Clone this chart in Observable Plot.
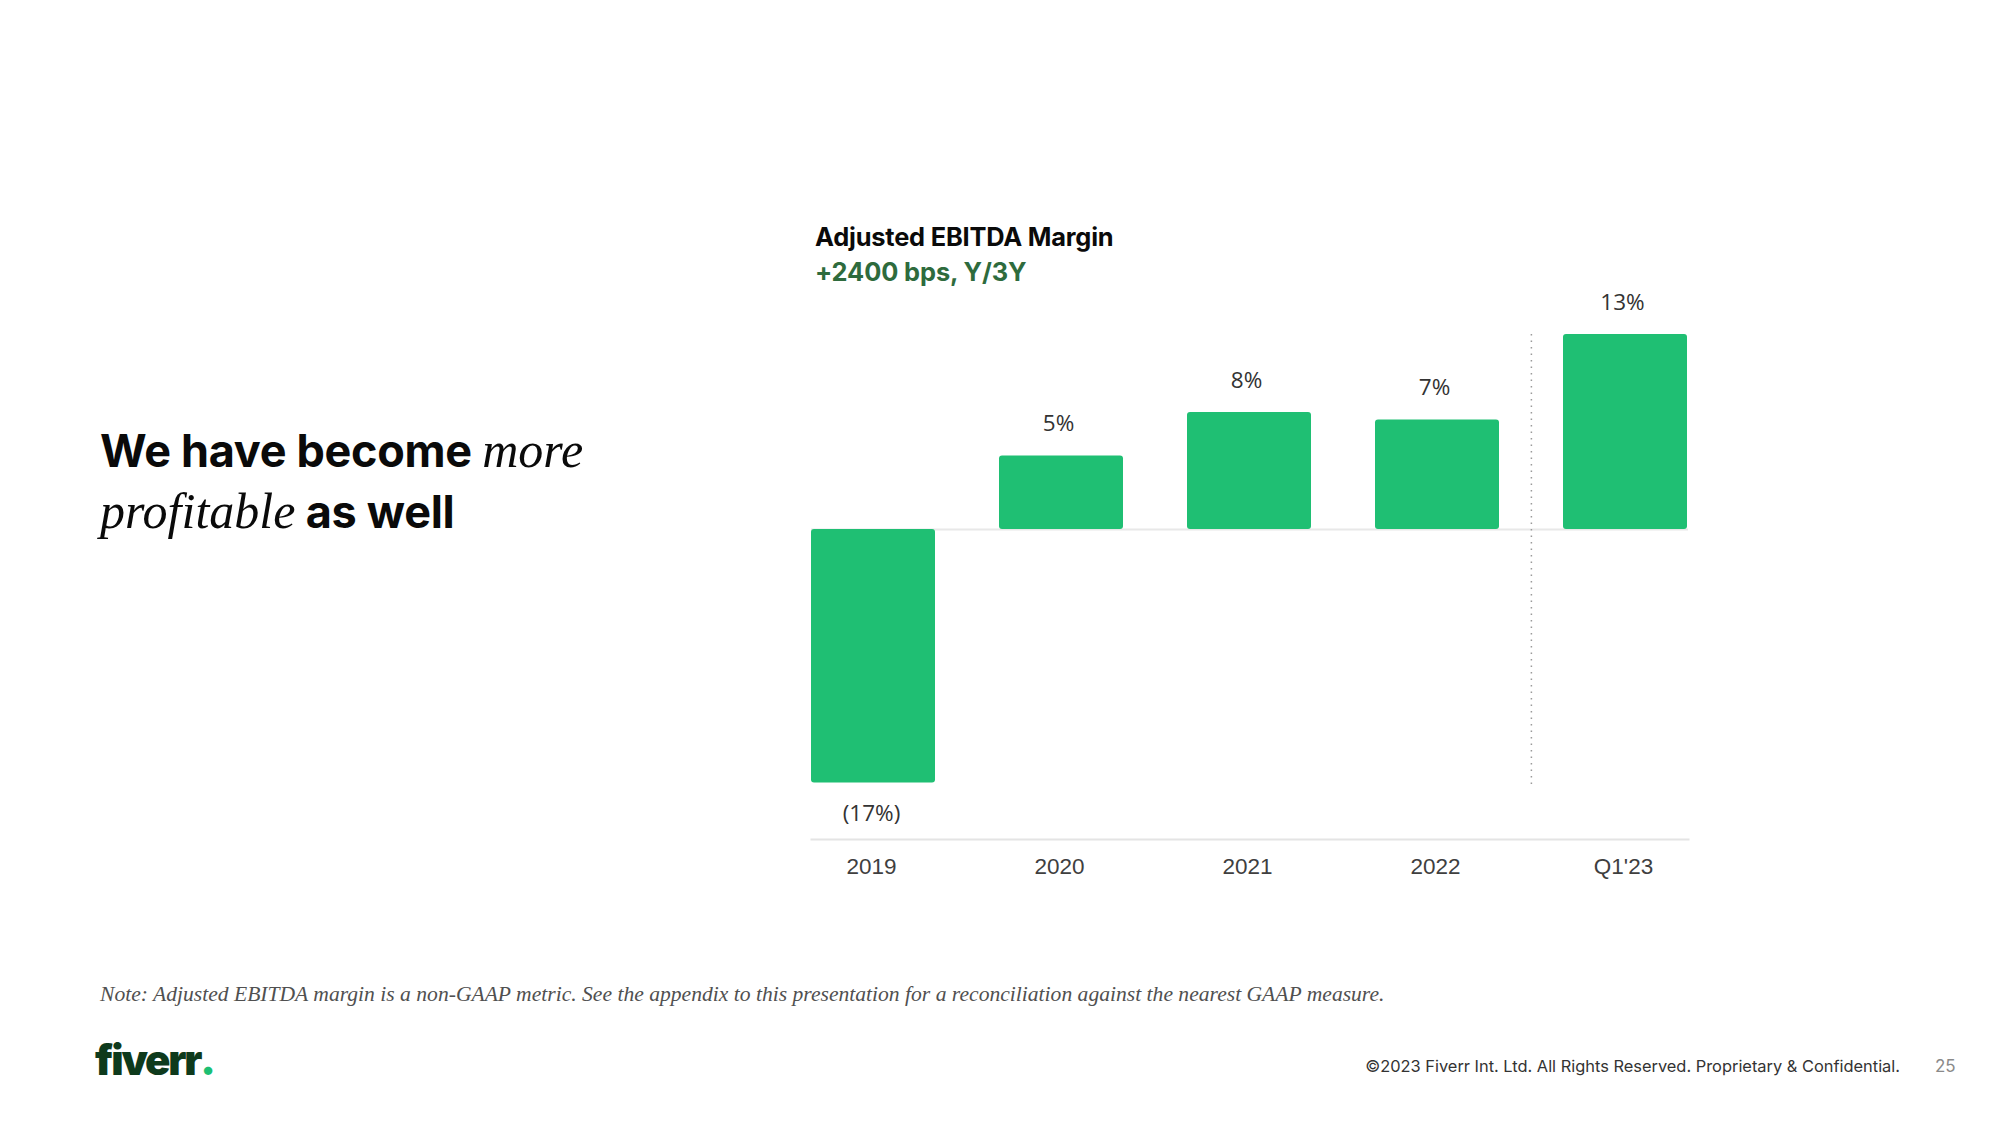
<!DOCTYPE html>
<html>
<head>
<meta charset="utf-8">
<script src="https://cdn.jsdelivr.net/npm/d3@7"></script>
<script src="https://cdn.jsdelivr.net/npm/@observablehq/plot@0.6"></script>
<style>
  html, body { margin: 0; padding: 0; background: #fff; }
  #page { position: relative; width: 2000px; height: 1125px; overflow: hidden; font-family: Inter, "Noto Sans", sans-serif; color: #000; }
  .abs { position: absolute; white-space: nowrap; }
  #heading { left: 100px; top: 420px; font-size: 45px; line-height: 60px; font-weight: 700; letter-spacing: -0.3px; color: #0a0a0a; }
  #heading i { font-family: "Liberation Serif", "DejaVu Serif", serif; font-weight: 400; font-size: 50px; font-style: italic; letter-spacing: 0; }
  #title { left: 815px; top: 224px; font-size: 25.4px; line-height: 26px; font-weight: 700; color: #0a0a0a; letter-spacing: -0.2px; }
  #subtitle { left: 815px; top: 259px; font-size: 25.4px; line-height: 26px; font-weight: 700; color: #2e6b3d; letter-spacing: -0.1px; }
  #chart { position: absolute; left: 780px; top: 280px; }
  #note { left: 100px; top: 983px; font-family: "Liberation Serif", serif; font-style: italic; font-size: 21.6px; line-height: 22px; color: #505050; }
  #logo { left: 95px; top: 1039px; font-size: 42px; line-height: 42px; font-weight: 900; color: #0e3a1c; letter-spacing: -2.2px; }
  #logo span { color: #1dbf73; letter-spacing: 0; }
  #copy { right: 100px; top: 1058px; font-size: 16.4px; line-height: 17px; color: #333; }
  #pagenum { left: 1935px; top: 1058px; font-size: 17px; line-height: 17px; color: #8a8a8a; }
</style>
</head>
<body>
<div id="page">
  <div id="heading" class="abs">We have become <i>more</i><br><i>profitable</i> as well</div>
  <div id="title" class="abs">Adjusted EBITDA Margin</div>
  <div id="subtitle" class="abs">+2400 bps, Y/3Y</div>
  <div id="chart"></div>
  <div id="note" class="abs">Note: Adjusted EBITDA margin is a non-GAAP metric. See the appendix to this presentation for a reconciliation against the nearest GAAP measure.</div>
  <div id="logo" class="abs">fiverr<span>.</span></div>
  <div id="copy" class="abs">©2023 Fiverr Int. Ltd. All Rights Reserved. Proprietary &amp; Confidential.</div>
  <div id="pagenum" class="abs">25</div>
</div>
<script>
// ---- data ----
const periods = ["2019", "2020", "2021", "2022", "Q1'23"];
const marginValues = [-16.9, 4.9, 7.8, 7.3, 13.0];
const valueLabels = ["(17%)", "5%", "8%", "7%", "13%"];
const dividerBefore = ["Q1'23"];
const dividerSpan = [13, -17.2];

const data = periods.map((p, i) => ({ period: p, value: marginValues[i], label: valueLabels[i] }));

// ---- layout ----
const W = 950, H = 640, ML = 31, MR = 42, MT = 24, MB = 81;
const xOpts = { domain: periods, paddingInner: 0.34, paddingOuter: 0, align: 0.5 };
const xs = Plot.scale({ x: { type: "band", ...xOpts, range: [ML, W - MR] } });

const green = "#1fbf73";

const chart = Plot.plot({
  width: W,
  height: H,
  marginLeft: ML,
  marginRight: MR,
  marginTop: MT,
  marginBottom: MB,
  style: { overflow: "visible", background: "transparent" },
  x: { type: "band", ...xOpts, axis: null, label: null },
  y: { domain: [-20.67, 15], axis: null },
  marks: [
    Plot.frame({ anchor: "bottom", stroke: "#e4e4e4", strokeWidth: 2 }),
    Plot.ruleY([0], { stroke: "#e8e8e8", strokeWidth: 2 }),
    Plot.barY(data, { x: "period", y: "value", fill: green, rx: 3 }),
    Plot.ruleX(dividerBefore, {
      x: d => d, y1: dividerSpan[0], y2: dividerSpan[1], dx: -xs.step / 2,
      stroke: "#9a9a9a", strokeWidth: 1.5, strokeDasharray: "1.5,5"
    }),
    Plot.text(data.filter(d => d.value >= 0), {
      x: "period", y: "value", text: "label", dy: -32, dx: -3,
      fontSize: 22.5, fill: "#333", fontFamily: "'Open Sans', 'Noto Sans', sans-serif"
    }),
    Plot.text(data.filter(d => d.value < 0), {
      x: "period", y: "value", text: "label", dy: 31, dx: -2,
      fontSize: 22.5, fill: "#333", fontFamily: "'Open Sans', 'Noto Sans', sans-serif"
    }),
    Plot.axisX({
      tickSize: 0, tickPadding: 19, fontSize: 22.5, fill: "#3f3f3f", dx: -2,
      fontFamily: "'Liberation Sans', Arial, sans-serif", label: null
    })
  ]
});
document.getElementById("chart").appendChild(chart);
</script>
</body>
</html>
